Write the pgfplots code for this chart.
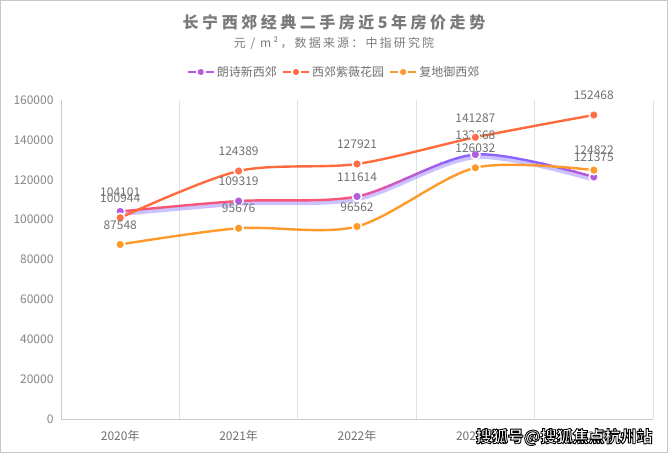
\documentclass[border=0pt]{standalone}
\usepackage{fontspec}
\setmainfont{Noto Sans CJK SC}
\usepackage{pgfplots}
\pgfplotsset{compat=1.18}
\usepackage{pgfplotstable}
\definecolor{cRed}{HTML}{FF6B3D}
\definecolor{cRedM}{HTML}{FF7048}
\definecolor{cOrange}{HTML}{FF9A2A}
\definecolor{cP1}{HTML}{F5567A}
\definecolor{cP2}{HTML}{E655A0}
\definecolor{cP3}{HTML}{CE58BC}
\definecolor{cP4}{HTML}{B65BD4}
\definecolor{cP5}{HTML}{A05EEA}
\definecolor{cP6}{HTML}{8E62FF}
\definecolor{cGlow}{HTML}{7F66FF}
\definecolor{cPurpleM}{HTML}{B55BE0}
\definecolor{cTitle}{HTML}{7A7A7A}
\definecolor{cText}{HTML}{707070}
\definecolor{cTick}{HTML}{858585}
\definecolor{cGrid}{HTML}{E0E0E0}

\pgfplotstableread{
x y lab
1 104101 104101
2 109319 109319
3 111614 111614
4 132668 132668
5 121375 121375
}\langshi
\pgfplotstableread{
x y lab
1 100944 100944
2 124389 124389
3 127921 127921
4 141287 141287
5 152468 152468
}\ziwei
\pgfplotstableread{
x y lab
1 87548 87548
2 95676 95676
3 96562 96562
4 126032 126032
5 124822 124822
}\fudi

\pgfplotsset{
  myleg/.style={legend image code/.code={
    \draw[line width=2.2pt,#1] (0pt,0pt)--(8pt,0pt);
    \draw[line width=2.2pt,#1] (18pt,0pt)--(26pt,0pt);
    \fill[#1] (13pt,0pt) circle (2.8pt);}},
  labs/.style={only marks, mark=*, mark size=4.6pt,
    mark options={draw=white, line width=1.6pt, fill=#1},
    point meta=explicit symbolic,
    nodes near coords={\pgfplotspointmeta},
    every node near coord/.append style={font=\fontsize{12}{14}\selectfont, text=cText, yshift=11pt}},
  pline/.style={forget plot, smooth, tension=0.5, no marks, draw=#1, line width=2.4pt},
}

\begin{document}
\begin{tikzpicture}
\useasboundingbox (0pt,0pt) rectangle (668pt,453pt);
\draw[color=black!22, line width=1pt] (0.5pt,0.5pt) rectangle (667.5pt,452.5pt);
\begin{axis}[
  at={(61pt,34pt)}, anchor=south west,
  scale only axis, width=592pt, height=319pt,
  xmin=0.5, xmax=5.5, ymin=0, ymax=160000,
  xtick={1,2,3,4,5},
  xticklabels={2020年,2021年,2022年,2023年,2024年},
  ytick={0,20000,40000,60000,80000,100000,120000,140000,160000},
  yticklabels={0,20000,40000,60000,80000,100000,120000,140000,160000},
  minor xtick={1.5,2.5,3.5,4.5,5.5},
  xminorgrids=true,
  minor grid style={draw=cGrid, line width=0.8pt},
  axis x line*=bottom, axis y line*=left,
  axis line style={draw=black!20, line width=0.8pt, -},
  major tick length=0pt, minor tick length=0pt,
  scaled y ticks=false,
  ticklabel style={font=\fontsize{12}{14}\selectfont, text=cTick},
  yticklabel style={xshift=-4pt},
  xticklabel style={yshift=-8pt, text=cText},
  clip=false,
  legend style={at={(0.4611,1.0878)}, anchor=center, draw=none, fill=none,
    font=\fontsize{12}{14}\selectfont, text=cText, inner sep=0pt,
    /tikz/every even column/.append style={column sep=3pt}},
  legend columns=3,
  legend cell align=left,
]
\addlegendimage{myleg=cPurpleM}
\addlegendentry{朗诗新西郊}
\addlegendimage{myleg=cRed}
\addlegendentry{西郊紫薇花园}
\addlegendimage{myleg=cOrange}
\addlegendentry{复地御西郊}

\addplot[forget plot, smooth, tension=0.5, no marks, draw=cGlow, line width=4.5pt, opacity=0.4, yshift=-2.5pt] table[x=x,y=y] {\langshi};
\begin{scope}
\clip (axis cs:0.5,0) rectangle (axis cs:5.5,112500);
\addplot[pline=cP1] table[x=x,y=y] {\langshi};
\end{scope}
\begin{scope}
\clip (axis cs:0.5,112500) rectangle (axis cs:5.5,116500);
\addplot[pline=cP2] table[x=x,y=y] {\langshi};
\end{scope}
\begin{scope}
\clip (axis cs:0.5,116500) rectangle (axis cs:5.5,120500);
\addplot[pline=cP3] table[x=x,y=y] {\langshi};
\end{scope}
\begin{scope}
\clip (axis cs:0.5,120500) rectangle (axis cs:5.5,124500);
\addplot[pline=cP4] table[x=x,y=y] {\langshi};
\end{scope}
\begin{scope}
\clip (axis cs:0.5,124500) rectangle (axis cs:5.5,128500);
\addplot[pline=cP5] table[x=x,y=y] {\langshi};
\end{scope}
\begin{scope}
\clip (axis cs:0.5,128500) rectangle (axis cs:5.5,160000);
\addplot[pline=cP6] table[x=x,y=y] {\langshi};
\end{scope}
\addplot[pline=cRed] table[x=x,y=y] {\ziwei};
\addplot[pline=cOrange] table[x=x,y=y] {\fudi};

\addplot[forget plot, labs=cPurpleM] table[x=x,y=y,meta=lab] {\langshi};
\addplot[forget plot, labs=cRedM] table[x=x,y=y,meta=lab] {\ziwei};
\addplot[forget plot, labs=cOrange] table[x=x,y=y,meta=lab] {\fudi};
\end{axis}
\node[font=\bfseries\fontsize{16}{18}\selectfont\addfontfeature{LetterSpace=22}, text=cTitle] at (334pt,431pt) {长宁西郊经典二手房近5年房价走势};
\node[font=\fontsize{12}{14}\selectfont\addfontfeature{LetterSpace=18}, text=cTitle] at (334pt,410pt) {元 / m²，数据来源：中指研究院};
\node[font=\bfseries\fontsize{16}{18}\selectfont, text=white, anchor=east] at (656pt,16pt) {\special{pdf:literal direct 2 Tr 0.9 w 0 0 0 RG}搜狐号@搜狐焦点杭州站\special{pdf:literal direct 0 Tr}};
\end{tikzpicture}
\end{document}
